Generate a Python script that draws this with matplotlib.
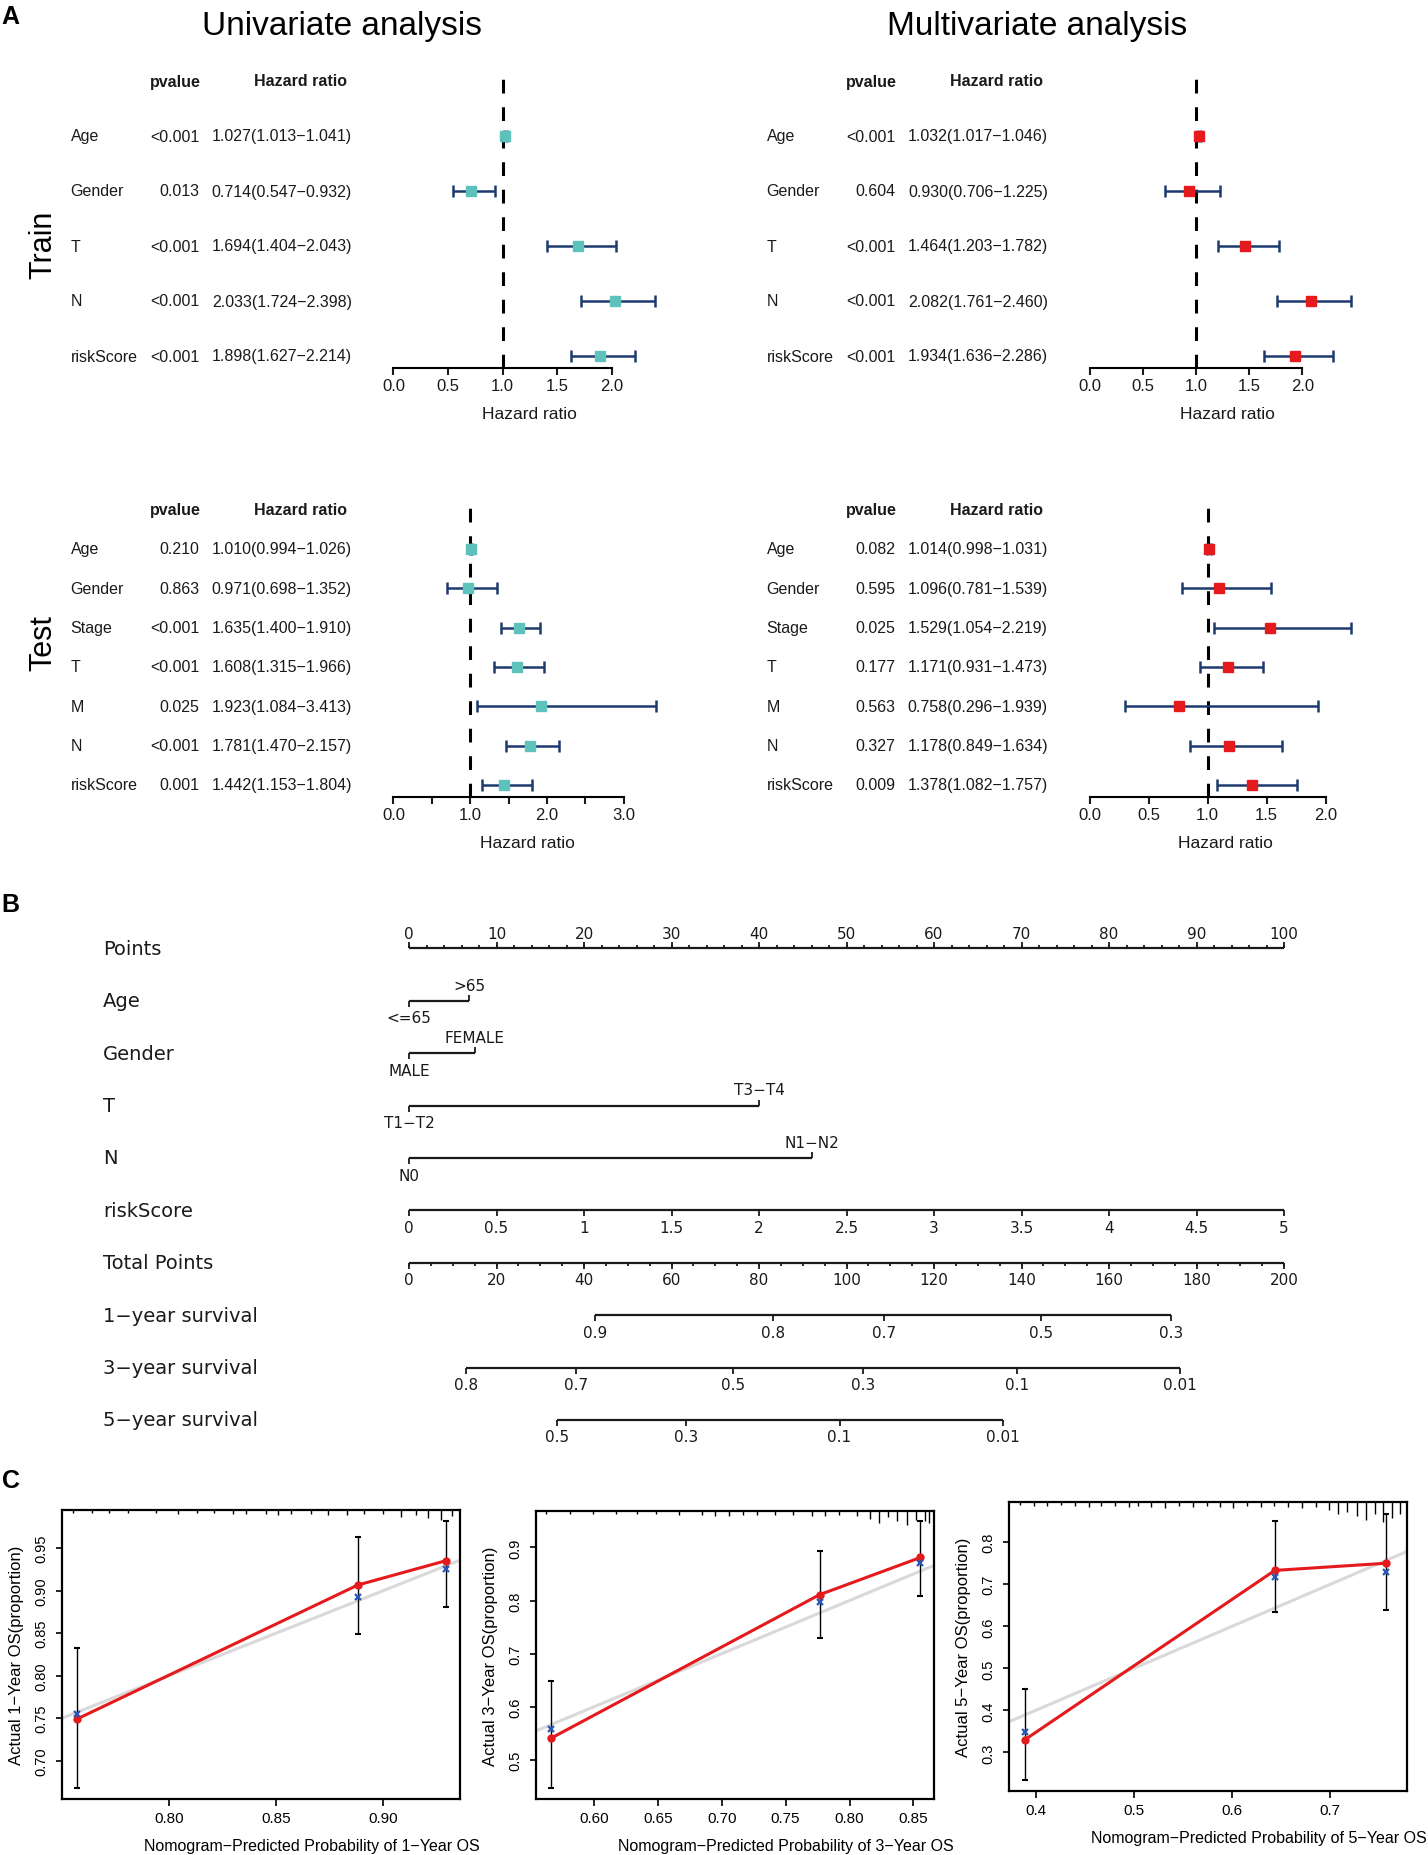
import numpy as np
import matplotlib
matplotlib.use("Agg")
import matplotlib.pyplot as plt
from matplotlib.transforms import blended_transform_factory

plt.rcParams['font.family'] = ['Liberation Sans', 'DejaVu Sans']

W, H = 1428, 1856
M = '\u2212'

# ---------------- A: Cox regression (forest plots) ----------------
train_vars = ['Age', 'Gender', 'T', 'N', 'riskScore']
train_uni_p = ['<0.001', '0.013', '<0.001', '<0.001', '<0.001']
train_uni_hr = [1.027, 0.714, 1.694, 2.033, 1.898]
train_uni_lo = [1.013, 0.547, 1.404, 1.724, 1.627]
train_uni_hi = [1.041, 0.932, 2.043, 2.398, 2.214]

train_multi_p = ['<0.001', '0.604', '<0.001', '<0.001', '<0.001']
train_multi_hr = [1.032, 0.930, 1.464, 2.082, 1.934]
train_multi_lo = [1.017, 0.706, 1.203, 1.761, 1.636]
train_multi_hi = [1.046, 1.225, 1.782, 2.460, 2.286]

test_vars = ['Age', 'Gender', 'Stage', 'T', 'M', 'N', 'riskScore']
test_uni_p = ['0.210', '0.863', '<0.001', '<0.001', '0.025', '<0.001', '0.001']
test_uni_hr = [1.010, 0.971, 1.635, 1.608, 1.923, 1.781, 1.442]
test_uni_lo = [0.994, 0.698, 1.400, 1.315, 1.084, 1.470, 1.153]
test_uni_hi = [1.026, 1.352, 1.910, 1.966, 3.413, 2.157, 1.804]

test_multi_p = ['0.082', '0.595', '0.025', '0.177', '0.563', '0.327', '0.009']
test_multi_hr = [1.014, 1.096, 1.529, 1.171, 0.758, 1.178, 1.378]
test_multi_lo = [0.998, 0.781, 1.054, 0.931, 0.296, 0.849, 1.082]
test_multi_hi = [1.031, 1.539, 2.219, 1.473, 1.939, 1.634, 1.757]

ticks_2 = [0.0, 0.5, 1.0, 1.5, 2.0]
ticks_3 = [0.0, 0.5, 1.0, 1.5, 2.0, 2.5, 3.0]
ticklabels_3 = ['0.0', '', '1.0', '', '2.0', '', '3.0']

# ---------------- B: nomogram ----------------
nomo_rows = ['Points', 'Age', 'Gender', 'T', 'N', 'riskScore', 'Total Points',
             '1' + M + 'year survival', '3' + M + 'year survival', '5' + M + 'year survival']
points_major = list(range(0, 101, 10))
points_minor = list(range(0, 101, 2))
age_pts, age_lab = [0, 6.9], ['<=65', '>65']
gender_pts, gender_lab = [0, 7.5], ['MALE', 'FEMALE']
t_pts, t_lab = [0, 40.0], ['T1' + M + 'T2', 'T3' + M + 'T4']
n_pts, n_lab = [0, 46.1], ['N0', 'N1' + M + 'N2']
risk_ticks = [0, 0.5, 1, 1.5, 2, 2.5, 3, 3.5, 4, 4.5, 5]
total_major = list(range(0, 201, 20))
total_minor = list(range(0, 201, 5))
surv1_prob = ['0.9', '0.8', '0.7', '0.5', '0.3']
surv1_total = [42.5, 83.1, 108.6, 144.5, 174.2]
surv3_prob = ['0.8', '0.7', '0.5', '0.3', '0.1', '0.01']
surv3_total = [13.0, 38.1, 74.1, 103.8, 139.0, 176.3]
surv5_prob = ['0.5', '0.3', '0.1', '0.01']
surv5_total = [33.8, 63.3, 98.4, 135.7]
RISK_TO_PTS = 20.0
TOTAL_TO_PTS = 0.5

# ---------------- C: calibration curves ----------------
cal1_pred = [0.757, 0.888, 0.929]
cal1_obs = [0.749, 0.9065, 0.935]
cal1_corr = [0.755, 0.892, 0.925]
cal1_lo = [0.668, 0.849, 0.881]
cal1_hi = [0.833, 0.9625, 0.982]
rug1_x = [0.755, 0.764, 0.772, 0.781, 0.794, 0.804, 0.813, 0.821, 0.830, 0.836, 0.845, 0.851,
          0.857, 0.866, 0.874, 0.883, 0.891, 0.900, 0.908, 0.915, 0.921, 0.927, 0.932]
rug1_h = [3, 3, 3, 3, 3, 4, 3, 3, 4, 4, 4, 5, 4, 4, 5, 5, 4, 4, 7, 5, 8, 10, 6]

cal3_pred = [0.5665, 0.7766, 0.8555]
cal3_obs = [0.541, 0.811, 0.881]
cal3_corr = [0.558, 0.797, 0.870]
cal3_lo = [0.447, 0.729, 0.808]
cal3_hi = [0.6487, 0.894, 0.950]
rug3_x = [0.563, 0.581, 0.599, 0.617, 0.634, 0.649, 0.667, 0.685, 0.695, 0.706, 0.717, 0.728, 0.742,
          0.756, 0.771, 0.781, 0.792, 0.806, 0.816, 0.823, 0.830, 0.837, 0.845, 0.852, 0.859, 0.862]
rug3_h = [3, 3, 3, 3, 3, 3, 4, 4, 5, 5, 4, 4, 4, 4, 5, 5, 4, 5, 8, 12, 6, 10, 14, 9, 10, 12]

cal5_pred = [0.389, 0.6435, 0.7565]
cal5_obs = [0.330, 0.733, 0.750]
cal5_corr = [0.348, 0.717, 0.729]
cal5_lo = [0.235, 0.634, 0.640]
cal5_hi = [0.452, 0.850, 0.867]
rug5_x = [0.384, 0.398, 0.412, 0.426, 0.440, 0.454, 0.467, 0.481, 0.495, 0.504, 0.518, 0.532,
          0.546, 0.560, 0.574, 0.588, 0.601, 0.615, 0.629, 0.643, 0.657, 0.671, 0.685, 0.699,
          0.708, 0.717, 0.727, 0.736, 0.745, 0.754, 0.763, 0.771]
rug5_h = [3, 4, 4, 3, 4, 5, 4, 4, 5, 4, 5, 6, 4, 5, 4, 5, 6, 4, 5, 4, 5, 6, 5, 8,
          12, 10, 14, 18, 12, 20, 16, 12]

NAVY = '#1d3a6e'
TEAL = '#5cc2bb'
RED = '#e41a1c'
TXT = '#1a1a1a'

fig = plt.figure(figsize=(W / 100, H / 100), dpi=100)


def box(l, t, r, b):
    return [l / W, 1 - b / H, (r - l) / W, (b - t) / H]


def forest(x0, unit, xmax, row0, step, axis_px, dx, names, pv, hr, lo, hi, color, ticks, ticklabels):
    n = len(names)
    ytop = -1.3
    ybot = (axis_px - row0) / step
    ax = fig.add_axes(box(x0 - 0.1 * unit, row0 + ytop * step, x0 + xmax * unit, axis_px))
    ax.set_xlim(-0.1, xmax)
    ax.set_ylim(ybot, ytop)
    rows = np.arange(n)
    hr, lo, hi = np.array(hr), np.array(lo), np.array(hi)
    ax.axvline(1.0, ymin=0, ymax=(ybot + 1.2) / (ybot - ytop), color='black', lw=2.2,
               ls=(0, (4.5, 4.5)), zorder=1)
    ax.errorbar(hr, rows, xerr=[hr - lo, hi - hr], fmt='none', ecolor=NAVY, elinewidth=1.8,
                capsize=4, capthick=1.8, zorder=2)
    ax.plot(hr, rows, 's', color=color, ms=7.5, zorder=3)
    for s in ['top', 'left', 'right']:
        ax.spines[s].set_visible(False)
    ax.spines['bottom'].set_bounds(ticks[0], ticks[-1])
    ax.spines['bottom'].set_linewidth(1.5)
    ax.set_xticks(ticks)
    ax.set_xticklabels(ticklabels)
    ax.set_yticks([])
    ax.patch.set_alpha(0)
    ax.tick_params(axis='x', length=5, width=1.5, labelsize=12, pad=2.5, colors=TXT)
    ax.set_xlabel('Hazard ratio', fontsize=12.5, labelpad=9, color=TXT)
    tr = blended_transform_factory(fig.transFigure, ax.transData)
    ax.text((175.3 + dx) / W, -1.0, 'pvalue', transform=tr, ha='center', va='center',
            fontsize=11.5, fontweight='bold', color=TXT)
    ax.text((301 + dx) / W, -1.0, 'Hazard ratio', transform=tr, ha='center', va='center',
            fontsize=11.5, fontweight='bold', color=TXT)
    for i in range(n):
        ax.text((70.6 + dx) / W, i, names[i], transform=tr, ha='left', va='center',
                fontsize=11.5, color=TXT)
        ax.text((199.5 + dx) / W, i, pv[i], transform=tr, ha='right', va='center',
                fontsize=11.5, color=TXT)
        s = f'{hr[i]:.3f}({lo[i]:.3f}{M}{hi[i]:.3f})'
        ax.text((352 + dx) / W, i, s, transform=tr, ha='right', va='center',
                fontsize=11.5, color=TXT)
    return ax


forest(393.4, 109.1, 2.6, 137, 55, 369, 0, train_vars, train_uni_p, train_uni_hr,
       train_uni_lo, train_uni_hi, TEAL, ticks_2, [f'{t:.1f}' for t in ticks_2])
forest(1089.7, 106.3, 2.7, 137, 55, 369, 696, train_vars, train_multi_p, train_multi_hr,
       train_multi_lo, train_multi_hi, RED, ticks_2, [f'{t:.1f}' for t in ticks_2])
forest(393.4, 76.8, 3.6, 550, 39.3, 797.6, 0, test_vars, test_uni_p, test_uni_hr,
       test_uni_lo, test_uni_hi, TEAL, ticks_3, ticklabels_3)
forest(1089.7, 117.95, 2.4, 550, 39.3, 797.6, 696, test_vars, test_multi_p, test_multi_hr,
       test_multi_lo, test_multi_hi, RED, ticks_2, [f'{t:.1f}' for t in ticks_2])

fig.text(341.5 / W, 1 - 26 / H, 'Univariate analysis', fontsize=24, ha='center', va='center')
fig.text(1037.3 / W, 1 - 26 / H, 'Multivariate analysis', fontsize=24, ha='center', va='center')
fig.text(43 / W, 1 - 245 / H, 'Train', fontsize=22, rotation=90, ha='center', va='center')
fig.text(43 / W, 1 - 643 / H, 'Test', fontsize=22, rotation=90, ha='center', va='center')
for lab, (px, py) in zip('ABC', [(10, 17), (10, 905), (11, 1481)]):
    fig.text(px / W, 1 - py / H, lab, fontsize=18, fontweight='bold', ha='center', va='center')

# ---------------- B: nomogram drawing ----------------
B_ROW0, B_STEP = 949.3, 52.4
axb = fig.add_axes(box(409, B_ROW0 - 0.6 * B_STEP, 1284, B_ROW0 + 9.4 * B_STEP))
axb.set_xlim(0, 100)
axb.set_ylim(9.4, -0.6)
axb.axis('off')
trb = blended_transform_factory(fig.transFigure, axb.transData)
NF = 'DejaVu Sans'
NSIZE = 11
for i, name in enumerate(nomo_rows):
    axb.text(103 / W, i, name, transform=trb, ha='left', va='center', fontsize=14,
             family=NF, color=TXT)


def hline(row, xs):
    axb.plot([min(xs), max(xs)], [row, row], color=TXT, lw=1.6, clip_on=False,
             solid_capstyle='butt')


def ticks(row, xs, up, ms=4.5):
    axb.plot(xs, [row] * len(xs), ls='none', marker=2 if up else 3, ms=ms, mew=1.3,
             color=TXT, clip_on=False)


def labels(row, xs, texts, up):
    off = 10.3 if up else -12.2
    for x, t in zip(xs, texts):
        axb.annotate(t, xy=(x, row), xytext=(0, off), textcoords='offset points', ha='center',
                     va='center', fontsize=NSIZE, family=NF, color=TXT, annotation_clip=False)


# Points
hline(0, points_major)
ticks(0, points_major, True, 4.5)
ticks(0, points_minor, True, 2.5)
labels(0, points_major, [str(p) for p in points_major], True)

# categorical predictors
for row, pts, labs in [(1, age_pts, age_lab), (2, gender_pts, gender_lab),
                       (3, t_pts, t_lab), (4, n_pts, n_lab)]:
    hline(row, pts)
    for j, (p, lb) in enumerate(zip(pts, labs)):
        up = j % 2 == 1
        ticks(row, [p], up, 4.5)
        axb.annotate(lb, xy=(p, row), xytext=(0, 11.3 if up else -12.4), textcoords='offset points',
                     ha='center', va='center', fontsize=NSIZE, family=NF, color=TXT,
                     annotation_clip=False)

# riskScore
risk_pos = [r * RISK_TO_PTS for r in risk_ticks]
hline(5, risk_pos)
ticks(5, risk_pos, False)
labels(5, risk_pos, [f'{r:g}' for r in risk_ticks], False)

# Total points
tot_pos = [t * TOTAL_TO_PTS for t in total_major]
hline(6, tot_pos)
ticks(6, tot_pos, False, 4.5)
ticks(6, [t * TOTAL_TO_PTS for t in total_minor], False, 2.5)
labels(6, tot_pos, [str(t) for t in total_major], False)

# survival probability axes
for row, tot, probs in [(7, surv1_total, surv1_prob), (8, surv3_total, surv3_prob),
                        (9, surv5_total, surv5_prob)]:
    pos = [t * TOTAL_TO_PTS for t in tot]
    hline(row, pos)
    ticks(row, pos, False)
    labels(row, pos, probs, False)


# ---------------- C: calibration drawing ----------------
def calib(l, t, r, b, xlim, ylim, xt, xtl, yt, ytl, pred, obs, corr, lo, hi, rug_x, rug_h, year):
    ax = fig.add_axes(box(l, t, r, b))
    ax.set_xlim(xlim)
    ax.set_ylim(ylim)
    ax.plot(xlim, xlim, color='#d9d9d9', lw=2.2, zorder=1)
    obs_a = np.array(obs)
    ax.errorbar(pred, obs, yerr=[obs_a - np.array(lo), np.array(hi) - obs_a], fmt='none',
                ecolor='black', elinewidth=1.0, capsize=2.5, capthick=1.5, zorder=2)
    ax.plot(pred, obs, '-', color=RED, lw=2.2, zorder=3)
    ax.plot(pred, obs, 'o', color=RED, ms=5, zorder=4)
    ax.plot(pred, corr, 'x', color='#2a56b5', ms=5, mew=1.6, zorder=5)
    ax.vlines(rug_x, 1 - np.array(rug_h) / (b - t), 1, transform=ax.get_xaxis_transform(),
              color='black', lw=1.0)
    for s in ax.spines.values():
        s.set_linewidth(1.6)
    ax.set_xticks(xt)
    ax.set_xticklabels(xtl)
    ax.set_yticks(yt)
    ax.set_yticklabels(ytl)
    ax.tick_params(axis='x', length=5, width=1.2, labelsize=11, pad=3.8)
    ax.tick_params(axis='y', length=4, width=1.2, labelsize=10.5, pad=5.5, labelrotation=90)
    for lab in ax.get_yticklabels():
        lab.set_va('center')
    ax.set_xlabel(f'Nomogram{M}Predicted Probability of {year}{M}Year OS', fontsize=11.5)
    ax.set_ylabel(f'Actual {year}{M}Year OS(proportion)', fontsize=12)
    ax.xaxis.set_label_coords(0.628, -(39.3 / (b - t)))
    ax.yaxis.set_label_coords(-38 / (r - l), 0.5)
    return ax


calib(62, 1511, 460, 1800, (0.75, 0.9357), (0.655, 0.9947), [0.80, 0.85, 0.90],
      ['0.80', '0.85', '0.90'], [0.70, 0.75, 0.80, 0.85, 0.90, 0.95],
      ['0.70', '0.75', '0.80', '0.85', '0.90', '0.95'],
      cal1_pred, cal1_obs, cal1_corr, cal1_lo, cal1_hi, rug1_x, rug1_h, 1)
calib(535.5, 1511.7, 933.5, 1800, (0.5544, 0.8657), (0.4267, 0.969),
      [0.60, 0.65, 0.70, 0.75, 0.80, 0.85], ['0.60', '0.65', '0.70', '0.75', '0.80', '0.85'],
      [0.5, 0.6, 0.7, 0.8, 0.9], ['0.5', '0.6', '0.7', '0.8', '0.9'],
      cal3_pred, cal3_obs, cal3_corr, cal3_lo, cal3_hi, rug3_x, rug3_h, 3)
calib(1009, 1503.3, 1407, 1791.7, (0.373, 0.778), (0.209, 0.895),
      [0.4, 0.5, 0.6, 0.7], ['0.4', '0.5', '0.6', '0.7'],
      [0.3, 0.4, 0.5, 0.6, 0.7, 0.8], ['0.3', '0.4', '0.5', '0.6', '0.7', '0.8'],
      cal5_pred, cal5_obs, cal5_corr, cal5_lo, cal5_hi, rug5_x, rug5_h, 5)

fig.savefig('out.png', dpi=100)
